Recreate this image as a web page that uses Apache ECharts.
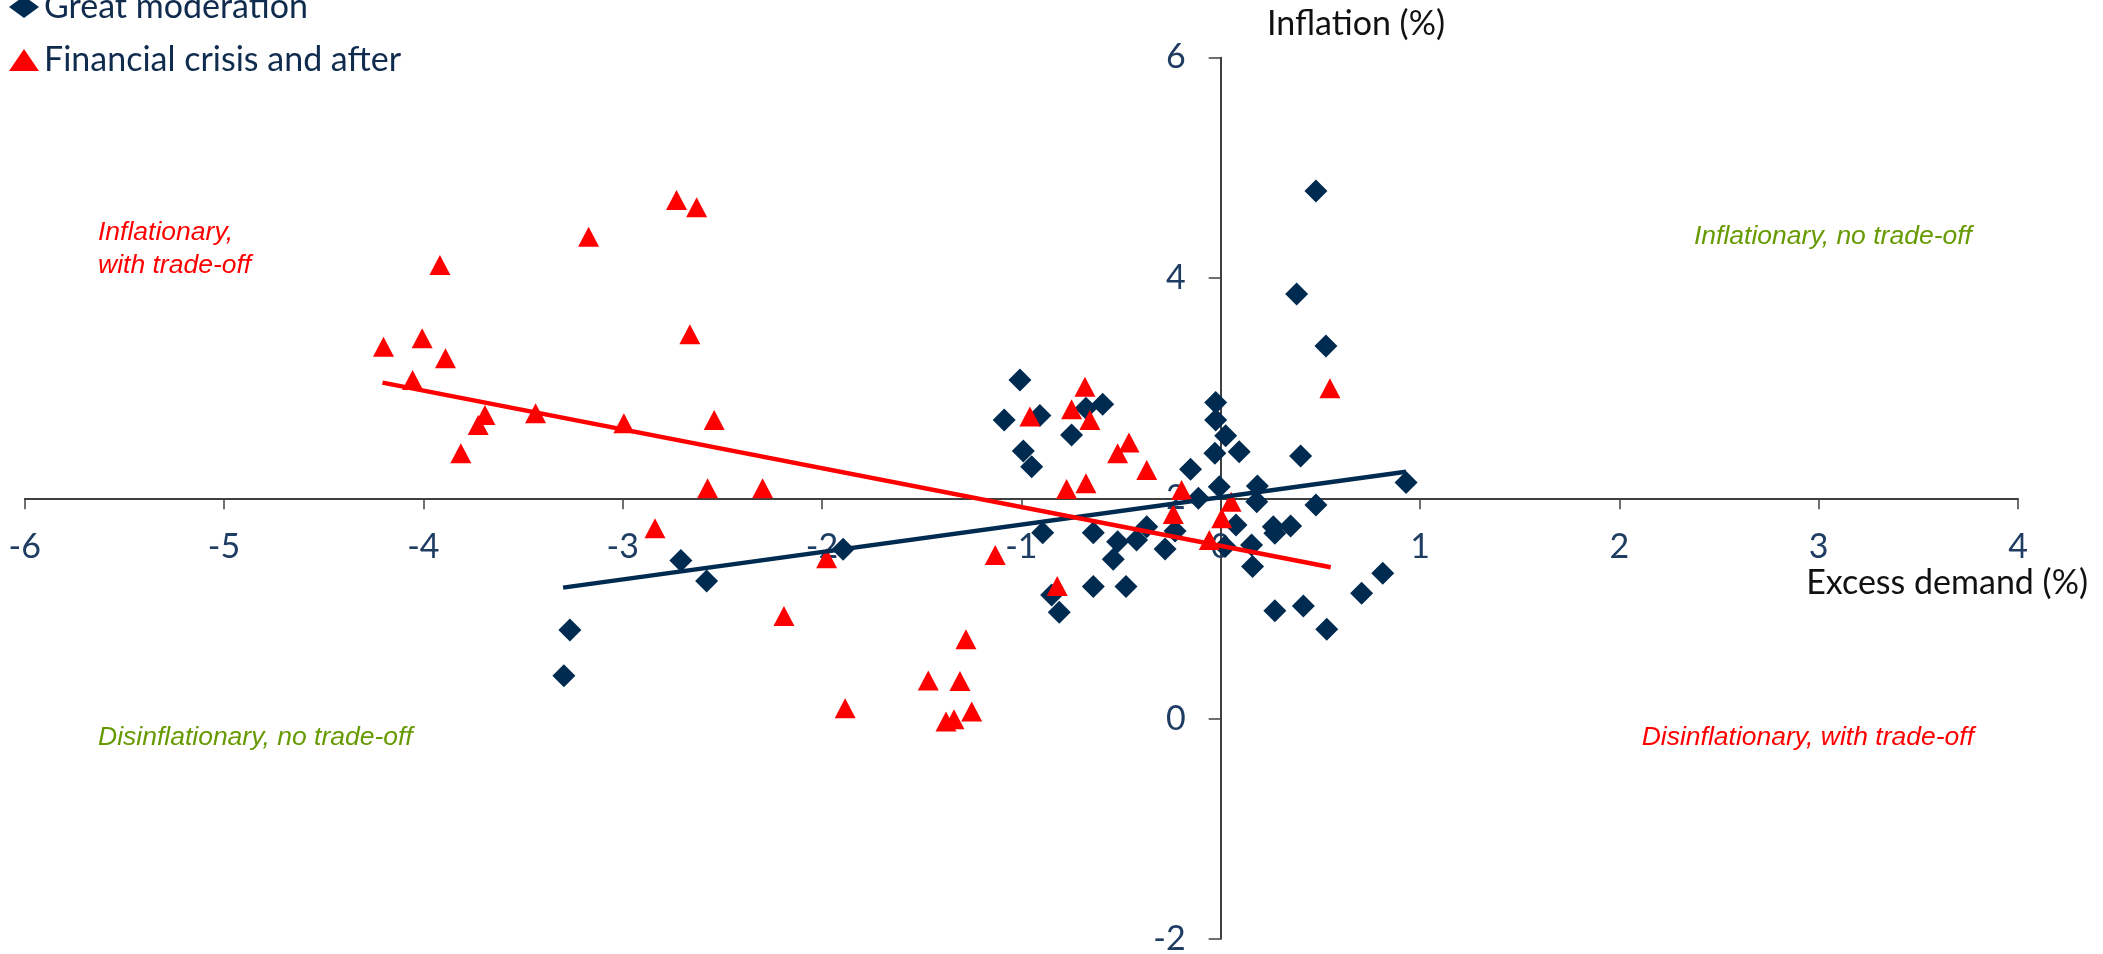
<!DOCTYPE html>
<html><head><meta charset="utf-8">
<script src="https://cdn.jsdelivr.net/npm/echarts@6/dist/echarts.min.js"></script>
<style>html,body{margin:0;padding:0;background:#fff;}#c{width:2103px;height:954px;}</style>
</head><body><div id="c"></div>
<script>
// Excess demand (%), Inflation (%)
const greatModeration = [
  [-3.295,0.390],[-3.265,0.805],[-2.708,1.436],[-2.579,1.250],[-1.894,1.537],
  [-1.007,3.074],[-1.086,2.711],[-0.907,2.750],[-0.676,2.817],[-0.592,2.853],
  [-0.748,2.574],[-0.990,2.429],[-0.948,2.287],[-0.025,2.868],[-0.025,2.711],
  [0.025,2.568],[-0.029,2.408],[0.093,2.423],[-0.151,2.263],[0.401,2.384],
  [-0.007,2.105],[0.184,2.112],[-0.112,2.000],[0.181,1.969],[0.930,2.142],
  [0.478,1.939],[-0.893,1.688],[-0.639,1.688],[-0.371,1.742],[-0.517,1.606],
  [-0.422,1.622],[-0.229,1.703],[-0.279,1.540],[-0.539,1.446],[0.077,1.758],
  [0.022,1.561],[0.155,1.576],[0.160,1.380],[0.264,1.742],[0.272,1.682],
  [0.351,1.749],[-0.848,1.123],[-0.810,0.965],[-0.639,1.198],[-0.475,1.198],
  [0.272,0.980],[0.415,1.023],[0.532,0.811],[0.707,1.138],[0.813,1.319],
  [0.478,4.788],[0.381,3.854],[0.528,3.382]
];
const financialCrisis = [
  [-4.200,3.376],[-4.006,3.452],[-3.917,4.117],[-3.889,3.270],[-4.054,3.073],
  [-3.691,2.756],[-3.725,2.665],[-3.812,2.408],[-3.437,2.771],[-2.994,2.680],
  [-3.171,4.374],[-2.730,4.707],[-2.629,4.640],[-2.663,3.488],[-2.541,2.710],
  [-2.574,2.091],[-2.298,2.091],[-2.838,1.728],[-1.977,1.455],[-2.191,0.932],
  [-1.131,1.485],[-1.278,0.720],[-1.467,0.345],[-1.308,0.342],[-1.884,0.094],
  [-1.249,0.064],[-1.378,-0.027],[-1.338,-0.006],[-0.681,3.013],[-0.957,2.741],
  [-0.748,2.808],[-0.656,2.711],[-0.460,2.505],[-0.517,2.408],[-0.371,2.257],
  [-0.773,2.084],[-0.676,2.136],[-0.196,2.075],[-0.238,1.858],[0.052,1.969],
  [0.005,1.818],[-0.057,1.622],[0.548,2.998],[-0.820,1.204]
];
const gmTrend = [[-3.299,1.189],[0.930,2.241]];
const fcTrend = [[-4.205,3.049],[0.552,1.374]];
const xTickLabels = [-6,-5,-4,-3,-2,-1,0,1,2,3,4];
const yTickLabels = [-2,0,2,4,6];

const NAVY = '#002b50';
const RED = '#ff0000';
const GREEN = '#669a00';
const LABEL = '#1f3d63';
const FONT = 'Lato, "Open Sans", sans-serif';
const QFONT = '"Liberation Sans", Arial, sans-serif';
const TFS = 34;

const L = 24.7, R = 85, T = 57.5, B = 15;
const W = 2103, H = 954;
const xMin = xTickLabels[0], xMax = xTickLabels[xTickLabels.length-1];
const yMin = yTickLabels[0], yMax = yTickLabels[yTickLabels.length-1];
// pixel positions where the axes cross (x = 0, y = 2)
const plotW = W - L - R, plotH = H - T - B;
const xZeroPx = L + (0 - xMin) / (xMax - xMin) * plotW;
const yTwoPx = T + (yMax - 2) / (yMax - yMin) * plotH;

const hiddenAxis = {axisLine: {show: false, onZero: false}, axisTick: {show: false}, axisLabel: {show: false}, splitLine: {show: false}};

const chart = echarts.init(document.getElementById('c'), null, {renderer: 'canvas'});
const option = {
  animation: false,
  backgroundColor: '#fff',
  legend: {
    orient: 'vertical', left: 9, top: -10, padding: 0,
    itemWidth: 30, itemHeight: 22, itemGap: 19, symbolKeepAspect: true,
    textStyle: {fontFamily: FONT, fontSize: TFS, lineHeight: 34, color: '#0f2b4d'},
    data: [{name: 'Great moderation', icon: 'diamond'}, {name: 'Financial crisis and after', icon: 'triangle'}]
  },
  grid: [
    {left: L, right: R, top: T, bottom: B, containLabel: false, outerBoundsMode: 'none'},
    {left: L, right: R, top: T, bottom: H - yTwoPx, containLabel: false, outerBoundsMode: 'none'},
    {left: xZeroPx, right: R, top: T, bottom: B, containLabel: false, outerBoundsMode: 'none'}
  ],
  xAxis: [
    Object.assign({gridIndex: 0, type: 'value', min: xMin, max: xMax, interval: 1}, hiddenAxis),
    {gridIndex: 1, type: 'value', min: xMin, max: xMax, interval: 1, position: 'bottom',
     axisLine: {onZero: false, lineStyle: {color: '#000', width: 1.5}},
     axisTick: {length: 11, lineStyle: {color: '#404040', width: 1.5}},
     axisLabel: {margin: 32, color: LABEL, fontFamily: FONT, fontSize: TFS, showMinLabel: true, showMaxLabel: true, hideOverlap: false},
     splitLine: {show: false}},
    Object.assign({gridIndex: 2, type: 'value', min: 0, max: 1}, hiddenAxis)
  ],
  yAxis: [
    Object.assign({gridIndex: 0, type: 'value', min: yMin, max: yMax, interval: 2}, hiddenAxis),
    Object.assign({gridIndex: 1, type: 'value', min: 0, max: 1}, hiddenAxis),
    {gridIndex: 2, type: 'value', min: yMin, max: yMax, interval: 2, position: 'left',
     axisLine: {onZero: false, lineStyle: {color: '#000', width: 1.5}},
     axisTick: {length: 12, lineStyle: {color: '#404040', width: 1.5}},
     axisLabel: {margin: 35, color: LABEL, fontFamily: FONT, fontSize: TFS, showMinLabel: true, showMaxLabel: true, hideOverlap: false},
     splitLine: {show: false}}
  ],
  series: [
    {name: 'Great moderation', type: 'scatter', xAxisIndex: 0, yAxisIndex: 0, data: greatModeration,
     symbol: 'diamond', symbolSize: 23, itemStyle: {color: NAVY, opacity: 1}, z: 3},
    {name: 'Financial crisis and after', type: 'scatter', xAxisIndex: 0, yAxisIndex: 0, data: financialCrisis,
     symbol: 'triangle', symbolSize: [21, 20], itemStyle: {color: RED, opacity: 1}, z: 4},
    {name: 'GM trend', type: 'line', xAxisIndex: 0, yAxisIndex: 0, data: gmTrend, showSymbol: false, symbol: 'none',
     lineStyle: {color: NAVY, width: 4.5}, z: 5, silent: true},
    {name: 'FC trend', type: 'line', xAxisIndex: 0, yAxisIndex: 0, data: fcTrend, showSymbol: false, symbol: 'none',
     lineStyle: {color: RED, width: 4.5}, z: 5, silent: true}
  ],
  graphic: [
    {type: 'text', x: 1267, y: 24, style: {text: 'Inflation (%)', fontFamily: FONT, fontSize: TFS, fill: '#111', verticalAlign: 'middle', align: 'left'}},
    {type: 'text', x: 2088, y: 583, style: {text: 'Excess demand (%)', fontFamily: FONT, fontSize: TFS, fill: '#111', verticalAlign: 'middle', align: 'right'}},
    {type: 'text', x: 98, y: 233, style: {text: 'Inflationary,', fontFamily: QFONT, fontStyle: 'italic', fontSize: 26.5, fill: RED, verticalAlign: 'middle'}},
    {type: 'text', x: 98, y: 266, style: {text: 'with trade-off', fontFamily: QFONT, fontStyle: 'italic', fontSize: 26.5, fill: RED, verticalAlign: 'middle'}},
    {type: 'text', x: 1694, y: 237, style: {text: 'Inflationary, no trade-off', fontFamily: QFONT, fontStyle: 'italic', fontSize: 26.5, fill: GREEN, verticalAlign: 'middle'}},
    {type: 'text', x: 98, y: 738, style: {text: 'Disinflationary, no trade-off', fontFamily: QFONT, fontStyle: 'italic', fontSize: 26.5, fill: GREEN, verticalAlign: 'middle'}},
    {type: 'text', x: 1974, y: 738, style: {text: 'Disinflationary, with trade-off', fontFamily: QFONT, fontStyle: 'italic', fontSize: 26.5, fill: RED, verticalAlign: 'middle', align: 'right'}}
  ]
};
chart.setOption(option);
</script></body></html>
